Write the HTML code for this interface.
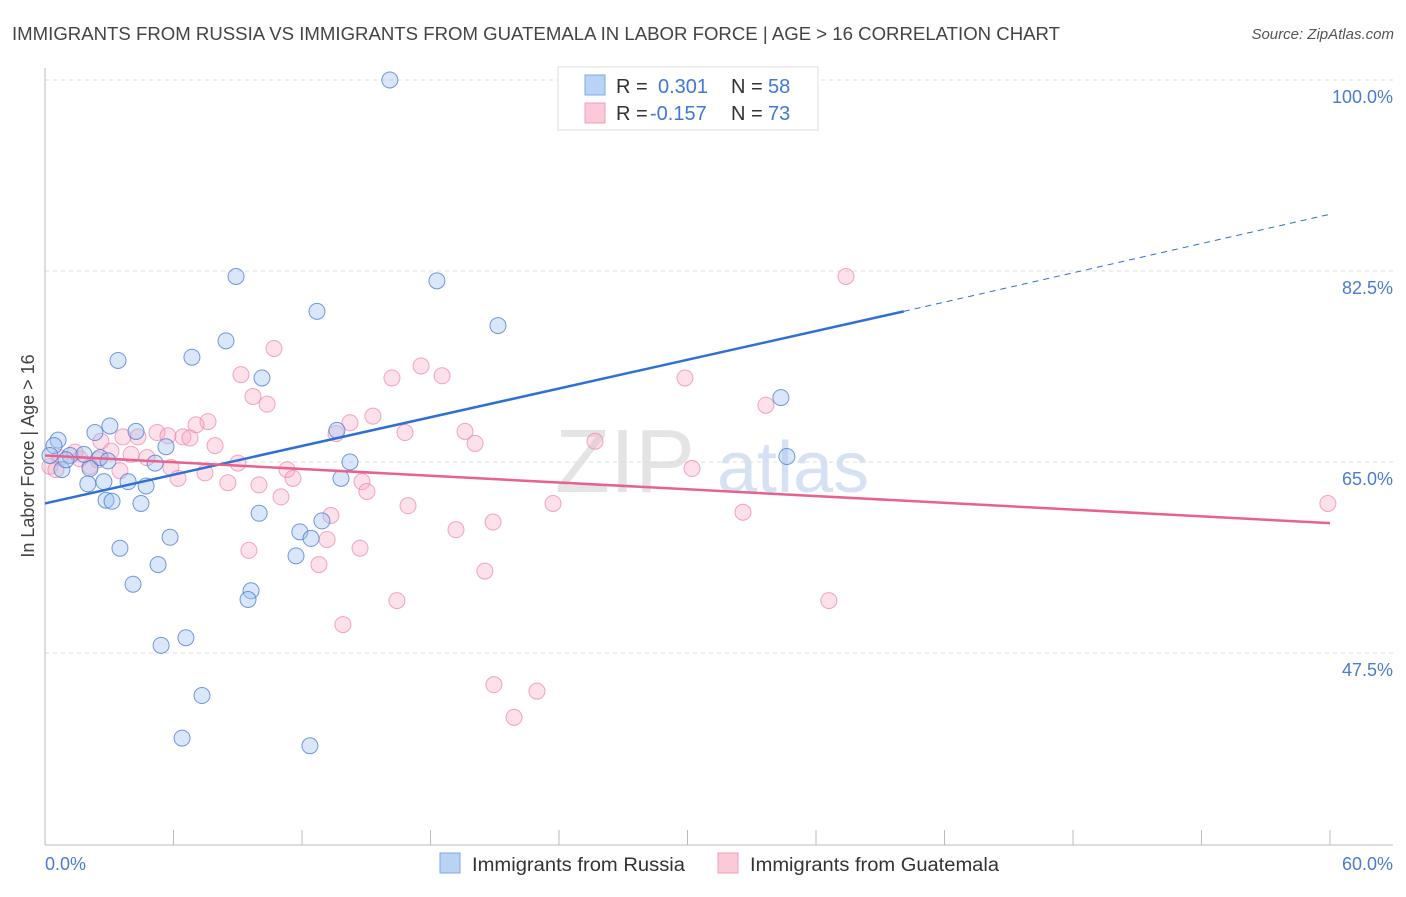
<!DOCTYPE html>
<html><head><meta charset="utf-8"><style>
body{margin:0;background:#fff;font-family:"Liberation Sans",sans-serif;}
svg text{font-family:"Liberation Sans",sans-serif;}
</style></head><body>
<svg id="chart" width="1406" height="892" xmlns="http://www.w3.org/2000/svg">
<text x="12" y="40" font-size="18.5" fill="#444" textLength="1048" lengthAdjust="spacingAndGlyphs">IMMIGRANTS FROM RUSSIA VS IMMIGRANTS FROM GUATEMALA IN LABOR FORCE | AGE &gt; 16 CORRELATION CHART</text>
<text x="1394" y="39" font-size="15" fill="#555" font-style="italic" text-anchor="end">Source: ZipAtlas.com</text>
<text x="555" y="492" font-size="90" fill="#e4e4e4" font-family="Liberation Serif">ZIP</text>
<text x="717" y="492" font-size="72" fill="#d6e2f3">atlas</text>
<g id="grid"></g>
<g id="axes"></g>
<g id="pts"></g>
<g id="lines"></g>
<text transform="translate(34,456) rotate(-90)" font-size="18" fill="#444" text-anchor="middle">In Labor Force | Age &gt; 16</text>
<text x="45" y="870" font-size="18" fill="#4a7bd0">0.0%</text>
<text x="1393" y="870" font-size="18" fill="#4a7bd0" text-anchor="end">60.0%</text>
<g>
<rect x="558" y="67" width="260" height="63" fill="#fff" stroke="#ddd"/>
<rect x="585" y="75" width="20" height="20" fill="#b9d3f5" stroke="#7ea8e6"/>
<rect x="585" y="103" width="20" height="20" fill="#fcc9d8" stroke="#f0a0b8"/>
<text x="616" y="93" font-size="20" fill="#333">R = </text><text x="658" y="93" font-size="20" fill="#3f78d6">0.301</text>
<text x="731" y="93" font-size="20" fill="#333">N = </text><text x="768" y="93" font-size="20" fill="#3f78d6">58</text>
<text x="616" y="120" font-size="20" fill="#333">R = </text><text x="650" y="120" font-size="20" fill="#3f78d6">-0.157</text>
<text x="731" y="120" font-size="20" fill="#333">N = </text><text x="768" y="120" font-size="20" fill="#3f78d6">73</text>
</g>
<g>
<rect x="440" y="853" width="20" height="20" fill="#b9d3f5" stroke="#7ea8e6"/>
<text x="472" y="871" font-size="19" fill="#333" textLength="213" lengthAdjust="spacingAndGlyphs">Immigrants from Russia</text>
<rect x="718" y="853" width="20" height="20" fill="#fcc9d8" stroke="#f0a0b8"/>
<text x="750" y="871" font-size="19" fill="#333" textLength="249" lengthAdjust="spacingAndGlyphs">Immigrants from Guatemala</text>
</g>
</svg>
<script>
const yTicks=[100,82.5,65,47.5];
const yTickLabels=["100.0%","82.5%","65.0%","47.5%"];
const xTicks=[0,6,12,18,24,30,36,42,48,54,60];
const russiaX=[16.1,8.92,18.3,12.7,21.15,8.45,3.41,6.86,10.13,34.36,3.03,4.25,2.33,0.61,0.42,5.65,13.63,14.24,34.64,0.23,1.17,2.57,5.14,0.79,2.1,2.0,2.75,3.88,4.72,13.82,2.85,3.13,4.48,10.0,12.93,11.9,12.42,5.84,3.5,11.72,5.28,4.11,9.62,9.48,6.58,5.42,7.33,6.4,12.37,26.2,1.82,0.98,2.94];
const russiaY=[100,82.0,81.6,78.8,77.5,76.1,74.3,74.6,72.7,70.9,68.3,67.8,67.7,67.0,66.5,66.4,67.9,65.0,65.5,65.6,65.6,65.4,64.9,64.3,64.4,63.0,63.2,63.2,62.8,63.5,61.5,61.4,61.2,60.3,59.6,58.6,58.0,58.1,57.1,56.4,55.6,53.8,53.2,52.4,48.9,48.2,43.6,39.7,39.0,100,65.7,65.2,65.1];
const guatX=[37.4,10.69,17.56,16.2,18.54,9.15,29.88,9.71,10.37,33.66,15.31,14.24,7.61,7.05,5.23,5.74,6.44,6.77,4.34,3.64,16.81,19.61,25.68,13.59,20.08,7.94,2.61,3.08,4.02,1.4,0.7,4.76,0.23,0.51,2.47,9.01,5.88,11.3,6.21,7.47,11.58,14.8,15.03,8.54,9.99,30.21,11.02,16.95,23.72,59.9,32.59,20.92,19.19,13.35,13.17,14.71,9.52,12.79,20.54,16.43,36.6,13.91,20.96,22.97,21.9,3.5,2.1,1.63];
const guatY=[82.0,75.4,73.8,72.7,72.9,73.0,72.7,71.0,70.3,70.2,69.2,68.6,68.7,68.4,67.7,67.4,67.3,67.2,67.3,67.3,67.7,67.8,66.9,67.6,66.7,66.5,66.9,66.0,65.7,65.9,65.4,65.4,64.6,64.3,65.2,64.9,64.5,64.3,63.5,64.0,63.5,63.2,62.3,63.1,62.9,64.4,61.8,61.0,61.2,61.2,60.4,59.5,58.8,60.1,57.9,57.1,56.9,55.6,55.0,52.3,52.3,50.1,44.6,44.0,41.6,64.2,64.6,65.3];
const x=v=>45+v*21.417;
const y=v=>80+(100-v)*10.914;
const NS="http://www.w3.org/2000/svg";
function mk(tag,attrs,parent){const e=document.createElementNS(NS,tag);for(const k in attrs)e.setAttribute(k,attrs[k]);document.getElementById(parent).appendChild(e);return e;}
yTicks.forEach((t,i)=>{
 const l=mk('line',{x1:45,x2:1393,y1:y(t),y2:y(t),stroke:'#ddd','stroke-dasharray':'4,4'},'grid');
 
 
 const tx=mk('text',{x:1393,y:y(t)+23,'font-size':18,fill:'#4a7bd0','text-anchor':'end'},'grid');
 tx.textContent=yTickLabels[i];
 
 
});
const ax=mk('line',{x1:45,x2:1393,y1:845,y2:845,stroke:'#bbb'},'axes');


const ay=mk('line',{x1:45,x2:45,y1:68,y2:845,stroke:'#bbb'},'axes');


xTicks.forEach(t=>{const l=mk('line',{x1:x(t),x2:x(t),y1:830,y2:845,stroke:'#bbb'},'axes');
 
 });
guatX.forEach((v,i)=>{const c=mk('circle',{cx:x(v),cy:y(guatY[i]),r:8,fill:'rgba(248,170,195,0.35)',stroke:'rgba(236,130,165,0.7)','stroke-width':1},'pts');
 
 });
russiaX.forEach((v,i)=>{const c=mk('circle',{cx:x(v),cy:y(russiaY[i]),r:8,fill:'rgba(160,195,240,0.4)',stroke:'rgba(70,120,210,0.75)','stroke-width':1},'pts');
 
 });
const rb=mk('line',{x1:x(0),y1:y(61.2),x2:x(40.1),y2:y(78.8),stroke:'#2f6fd6','stroke-width':2.5},'lines');


const rd=mk('line',{x1:x(40.1),y1:y(78.8),x2:x(60),y2:y(87.7),stroke:'#2f6fd6','stroke-width':1,'stroke-dasharray':'6,5'},'lines');


const gl=mk('line',{x1:x(0),y1:y(65.6),x2:x(60),y2:y(59.4),stroke:'#e8618f','stroke-width':2.5},'lines');


</script>
</body></html>
